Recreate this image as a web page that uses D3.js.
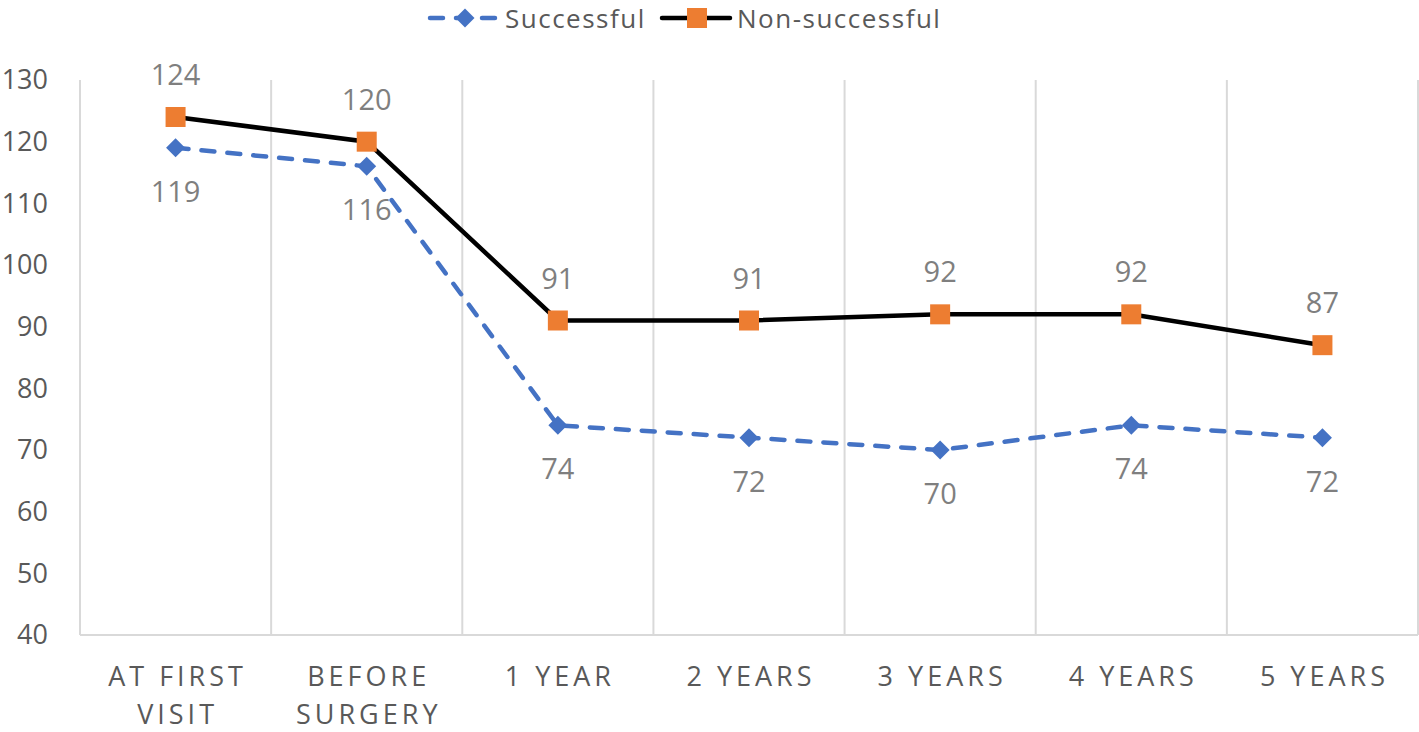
<!DOCTYPE html>
<html>
<head>
<meta charset="utf-8">
<script src="https://cdn.jsdelivr.net/npm/d3@7"></script>
<style>
  body { margin: 0; background: #fff; }
  svg { font-family: "Open Sans", sans-serif; }
</style>
</head>
<body>
<div id="chart"></div>
<script>
// Line chart - successful vs non-successful

const categories = [["AT FIRST", "VISIT"], ["BEFORE", "SURGERY"], ["1 YEAR"], ["2 YEARS"], ["3 YEARS"], ["4 YEARS"], ["5 YEARS"]];
const successful = [119, 116, 74, 72, 70, 74, 72];
const nonSuccessful = [124, 120, 91, 91, 92, 92, 87];
const yTicks = [40, 50, 60, 70, 80, 90, 100, 110, 120, 130];

const width = 1419, height = 732;
const margin = { left: 80, right: 1, top: 80, bottom: 97 };
const w = width - margin.left - margin.right;
const h = height - margin.top - margin.bottom;

const svg = d3.select("#chart").append("svg")
  .attr("width", width)
  .attr("height", height);

const g = svg.append("g")
  .attr("transform", "translate(" + margin.left + "," + margin.top + ")");

const x = d3.scaleBand().domain(d3.range(categories.length)).range([0, w]);
const y = d3.scaleLinear().domain([40, 130]).range([h, 0]);
const cx = i => x(i) + x.bandwidth() / 2;

// vertical gridlines at category boundaries
const bounds = d3.range(categories.length + 1).map(i => i * x.step());
g.selectAll(".vgrid").data(bounds).enter().append("line")
  .attr("x1", d => d).attr("x2", d => d)
  .attr("y1", 0).attr("y2", h)
  .attr("stroke", "#d9d9d9").attr("stroke-width", 2);

// bottom axis line
g.append("line")
  .attr("x1", 0).attr("x2", w)
  .attr("y1", h).attr("y2", h)
  .attr("stroke", "#d9d9d9").attr("stroke-width", 2);

// y tick labels
g.selectAll(".ytick").data(yTicks).enter().append("text")
  .attr("x", -32)
  .attr("y", d => y(d))
  .attr("dy", "0.35em")
  .attr("text-anchor", "end")
  .attr("font-size", "27px")
  .attr("fill", "#595959")
  .text(d => d);

// category labels
const cat = g.selectAll(".cat").data(categories).enter().append("text")
  .attr("x", (d, i) => cx(i) + 2)
  .attr("y", h + 51)
  .attr("text-anchor", "middle")
  .attr("font-size", "27px")
  .attr("letter-spacing", "4px")
  .attr("fill", "#595959");
cat.selectAll("tspan").data(d => d).enter().append("tspan")
  .attr("x", function () { return d3.select(this.parentNode).attr("x"); })
  .attr("dy", (d, j) => j === 0 ? 0 : 38)
  .text(d => d);

const line = d3.line().x((d, i) => cx(i)).y(d => y(d));

// successful - dashed blue
g.append("path")
  .attr("d", line(successful))
  .attr("fill", "none")
  .attr("stroke", "#4472c4")
  .attr("stroke-width", 4.5)
  .attr("stroke-dasharray", "13,13")
  .attr("stroke-linecap", "round");

// non-successful - black
g.append("path")
  .attr("d", line(nonSuccessful))
  .attr("fill", "none")
  .attr("stroke", "#000")
  .attr("stroke-width", 4.5);

const diamond = d3.symbol().type(d3.symbolDiamond2).size(230);

g.selectAll(".dia").data(successful).enter().append("path")
  .attr("d", diamond)
  .attr("transform", (d, i) => "translate(" + cx(i) + "," + y(d) + ")")
  .attr("fill", "#4472c4");

g.selectAll(".sq").data(nonSuccessful).enter().append("rect")
  .attr("x", (d, i) => cx(i) - 10)
  .attr("y", d => y(d) - 10)
  .attr("width", 20).attr("height", 20)
  .attr("fill", "#ed7d31");

// data labels
g.selectAll(".lblS").data(successful).enter().append("text")
  .attr("x", (d, i) => cx(i))
  .attr("y", d => y(d) + 44)
  .attr("dy", "0.35em")
  .attr("text-anchor", "middle")
  .attr("font-size", "29px")
  .attr("fill", "#7f7f7f")
  .text(d => d);

g.selectAll(".lblN").data(nonSuccessful).enter().append("text")
  .attr("x", (d, i) => cx(i))
  .attr("y", d => y(d) - 42)
  .attr("dy", "0.35em")
  .attr("text-anchor", "middle")
  .attr("font-size", "29px")
  .attr("fill", "#7f7f7f")
  .text(d => d);

// legend
const leg = svg.append("g").attr("transform", "translate(0,18)");
leg.append("line")
  .attr("x1", 430).attr("x2", 500).attr("y1", 0).attr("y2", 0)
  .attr("stroke", "#4472c4").attr("stroke-width", 4.5)
  .attr("stroke-dasharray", "13,13").attr("stroke-linecap", "round");
leg.append("path")
  .attr("d", diamond)
  .attr("transform", "translate(465,0)")
  .attr("fill", "#4472c4");
leg.append("text")
  .attr("x", 505).attr("y", 1).attr("dy", "0.35em")
  .attr("font-size", "26px").attr("letter-spacing", "1.5px").attr("fill", "#595959")
  .text("Successful");

leg.append("line")
  .attr("x1", 662).attr("x2", 730).attr("y1", 0).attr("y2", 0)
  .attr("stroke", "#000").attr("stroke-width", 4.5)
  .attr("stroke-linecap", "round");
leg.append("rect")
  .attr("x", 687).attr("y", -10).attr("width", 20).attr("height", 20)
  .attr("fill", "#ed7d31");
leg.append("text")
  .attr("x", 737).attr("y", 1).attr("dy", "0.35em")
  .attr("font-size", "26px").attr("letter-spacing", "1.5px").attr("fill", "#595959")
  .text("Non-successful");
</script>
</body>
</html>
